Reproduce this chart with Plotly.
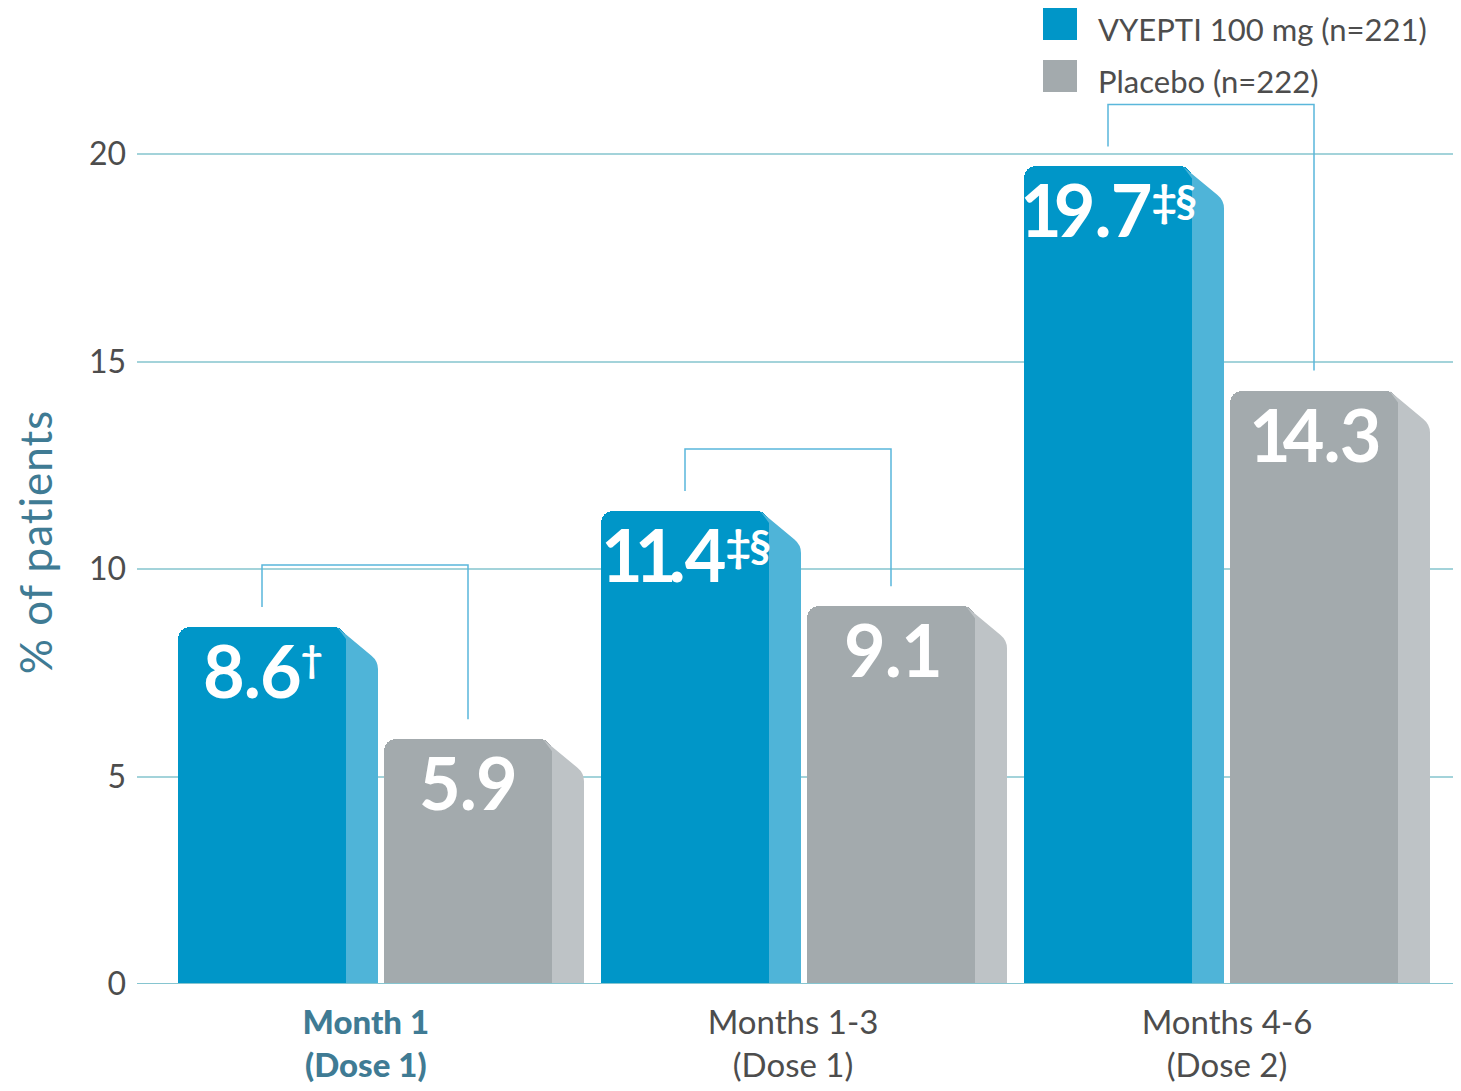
import plotly.graph_objects as go

# ---------------- data ----------------
categories = ["Month 1", "Months 1-3", "Months 4-6"]
doses = ["(Dose 1)", "(Dose 1)", "(Dose 2)"]
vyepti = [8.6, 11.4, 19.7]
placebo = [5.9, 9.1, 14.3]
vyepti_marks = ["†", "‡§", "‡§"]
placebo_marks = ["", "", ""]
y_ticks = [0, 5, 10, 15, 20]
series_names = ["VYEPTI 100 mg (n=221)", "Placebo (n=222)"]

# ---------------- style ----------------
BLUE = "#0096C8"
BLUE_SIDE = "#4FB4D8"
GRAY = "#A3AAAD"
GRAY_SIDE = "#BEC3C6"
GRID = "#A3D3DA"
AXIS = "#86C5D0"
BRACKET = "#5AB7DB"
TEAL = "#3F7B94"
TXT = "#4D4D4D"
FONT = "Lato"

OFF = 8                      # page body margin
W, H = 1461 - OFF, 1091 - OFF
ML, MR, MT, MB = 137 - OFF, 0, 100 - OFF, 107
plot_w = W - ML - MR
plot_h = H - MT - MB
PXU = 423.0           # px per category unit
PYU = 41.5            # px per y unit
PX = 1 / PXU
PY = 1 / PYU
x_range = [-(381 - 137) / PXU, (1461 - 381) / PXU]
y_range = [0, plot_h / PYU]

front_w = 168 * PX
side_w = 32 * PX
v_off = -203 * PX
p_off = 6 * PX

xi = list(range(len(categories)))

fig = go.Figure()
fig.add_trace(go.Bar(x=xi, y=vyepti, offset=v_off, width=front_w,
                     marker=dict(color=BLUE, line=dict(width=0), cornerradius=12),
                     name=series_names[0], showlegend=False, hoverinfo="y"))
fig.add_trace(go.Bar(x=xi, y=placebo, offset=v_off + front_w + side_w + p_off, width=front_w,
                     marker=dict(color=GRAY, line=dict(width=0), cornerradius=12),
                     name=series_names[1], showlegend=False, hoverinfo="y"))

shapes = []


def side_path(xr, v):
    xs = xr + side_w
    ax, ay = xr - 9 * PX, v
    kx, ky = xs, v - 34 * PY
    k1x, k1y = xs - 6.5 * PX, ky + 5.4 * PY
    k2x, k2y = xs, ky - 8 * PY
    return (f"M {xr},0 L {xr},{v - 12 * PY} L {ax},{ay} L {k1x},{k1y} "
            f"Q {kx},{ky} {k2x},{k2y} L {xs},0 Z")


def value_text(val, mark):
    parts = []
    for ch in str(val):
        ls = -8 if ch == "1" else -1
        parts.append(f"<span style='letter-spacing:{ls}px'>{ch}</span>")
    txt = "".join(parts)
    if mark:
        size = 38 if mark == "†" else 44
        shift = 52 - 0.72 * size
        txt += (f"<span style='font-size:{size}px;letter-spacing:-2px;"
                f"baseline-shift:{shift:.0f}px'>{mark}</span>")
    return txt


annos = []
for i in xi:
    vr = i + v_off + front_w
    pl = i + v_off + front_w + side_w + p_off
    pr = pl + front_w
    shapes.append(dict(type="path", xref="x", yref="y", path=side_path(vr, vyepti[i]),
                       fillcolor=BLUE_SIDE, line=dict(width=0), layer="above"))
    shapes.append(dict(type="path", xref="x", yref="y", path=side_path(pr, placebo[i]),
                       fillcolor=GRAY_SIDE, line=dict(width=0), layer="above"))
    # bracket
    xc_v = i + v_off + front_w / 2
    xc_p = pl + front_w / 2
    top = max(vyepti[i], placebo[i]) + 62 * PY
    shapes.append(dict(type="path", xref="x", yref="y",
                       path=f"M {xc_v},{vyepti[i] + 20 * PY} L {xc_v},{top} L {xc_p},{top} L {xc_p},{placebo[i] + 20 * PY}",
                       line=dict(color=BRACKET, width=1.5), layer="above"))
    # value labels
    for xc, val, mark in ((xc_v, vyepti[i], vyepti_marks[i]), (xc_p, placebo[i], placebo_marks[i])):
        annos.append(dict(x=xc, y=val, xref="x", yref="y", text=value_text(val, mark),
                          showarrow=False, xanchor="center", yanchor="top", yshift=2,
                          font=dict(family=FONT, size=72, color="white", weight=700)))

# zero line on top
shapes.append(dict(type="line", xref="paper", yref="y", x0=0, x1=1, y0=0, y1=0,
                   line=dict(color=AXIS, width=2), layer="above"))


def xp(px):
    return (px - OFF - ML) / plot_w


def yp(py):
    return (H - MB - (py - OFF)) / plot_h


# legend
for (c, y0, y1, name) in ((BLUE, 8, 40, series_names[0]), (GRAY, 60, 92, series_names[1])):
    shapes.append(dict(type="rect", xref="paper", yref="paper", x0=xp(1043), x1=xp(1077),
                       y0=yp(y1), y1=yp(y0), fillcolor=c, line=dict(width=0), layer="above"))
    annos.append(dict(x=xp(1097), y=yp(y0 + 1), xref="paper", yref="paper",
                      text=name, showarrow=False,
                      xanchor="left", yanchor="top", borderpad=0,
                      font=dict(family=FONT, size=31, color=TXT)))

# category tick labels
ticktext = []
for i, (c, d) in enumerate(zip(categories, doses)):
    if i == 0:
        ticktext.append(f"<span style='color:{TEAL};font-weight:900'>{c}<br>{d}</span>")
    else:
        ticktext.append(f"{c}<br>{d}")
tick_shift = [-0.036, -0.026, 0.0]

fig.update_layout(
    width=W, height=H,
    margin=dict(l=ML, r=MR, t=MT, b=MB, autoexpand=False),
    paper_bgcolor="white", plot_bgcolor="white",
    barmode="overlay", bargap=0,
    showlegend=False,
    shapes=shapes, annotations=annos,
    font=dict(family=FONT, color=TXT),
    xaxis=dict(range=x_range, showgrid=False, zeroline=False, showline=False,
               tickvals=[i + s for i, s in zip(xi, tick_shift)], ticktext=ticktext,
               ticks="", ticklabelstandoff=16, tickfont=dict(family=FONT, size=33, color=TXT),
               fixedrange=True),
    yaxis=dict(range=y_range, tickvals=y_ticks, ticktext=[str(t) for t in y_ticks],
               showgrid=True, gridcolor=GRID, gridwidth=1.5, zeroline=False, showline=False,
               ticks="", ticklabelstandoff=10, tickfont=dict(family=FONT, size=32, color=TXT),
               title=dict(text="<span style='letter-spacing:1px'>% of patients</span>",
                          font=dict(family=FONT, size=44, color=TEAL),
                          standoff=22),
               fixedrange=True),
)

fig.write_html("out.html")
